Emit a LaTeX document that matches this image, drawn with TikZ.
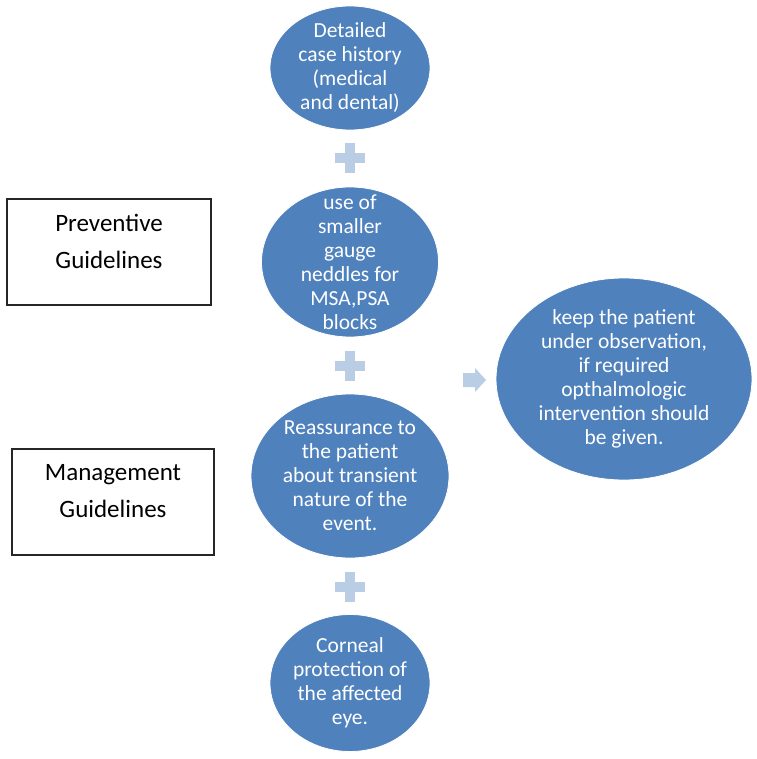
\documentclass[tikz,border=0pt]{standalone}
\usepackage{fontspec}
\setmainfont{Carlito}
\usetikzlibrary{shapes.geometric}
\definecolor{blobblue}{RGB}{79,129,189}
\definecolor{plusblue}{RGB}{185,205,229}
\newcommand{\addsign}[1]{\fill[plusfill] (#1) ++(-5,-15) rectangle ++(10,30);
  \fill[plusfill] (#1) ++(-15,-5) rectangle ++(30,10);}

\begin{document}
\begin{tikzpicture}[x=1pt, y=-1pt,
  blob/.style = {ellipse, fill=blobblue, draw=white, line width=0.8pt, inner sep=0pt},
  blobtext/.style = {text=white, align=center, inner sep=0pt, font=\fontsize{21.5}{24}\selectfont},
  guidebox/.style = {draw=black!85, line width=1.2pt, inner sep=0pt},
  guidetext/.style = {align=center, inner sep=0pt, font=\fontsize{25}{37}\selectfont},
  plusfill/.style = {fill=plusblue}]
\useasboundingbox (0,0) rectangle (756,759);

\node[blob, minimum width=160, minimum height=124] (history) at (350,68) {};
\node[blobtext] (historytxt) at (history) {Detailed\\case history\\(medical\\and dental)};
\node[blob, minimum width=177, minimum height=150] (gauge) at (350,262) {};
\node[blobtext] (gaugetxt) at (gauge) {use of\\smaller\\gauge\\neddles for\\MSA,PSA\\blocks};
\node[blob, minimum width=198, minimum height=164] (reassure) at (350,476) {};
\node[blobtext] (reassuretxt) at (reassure) {Reassurance to\\the patient\\about transient\\nature of the\\event.};
\node[blob, minimum width=160, minimum height=137] (cornea) at (350,683) {};
\node[blobtext] (corneatxt) at (cornea) {Corneal\\protection of\\the affected\\eye.};
\node[blob, minimum width=256, minimum height=202] (observe) at (624,379) {};
\node[blobtext] (observetxt) at (observe) {keep the patient\\under observation,\\if required\\opthalmologic\\intervention should\\be given.};

\node[guidebox, minimum width=204, minimum height=106] (prevbox) at (109,252) {};
\node[guidetext] (prevtxt) at (109,241.5) {Preventive\\Guidelines};
\node[guidebox, minimum width=202, minimum height=106] (mgmtbox) at (113,502) {};
\node[guidetext] (mgmttxt) at (113,491.5) {Management\\Guidelines};

\coordinate (plusA) at (350,158);
\coordinate (plusB) at (350,366);
\coordinate (plusC) at (350,587);
\addsign{plusA}
\addsign{plusB}
\addsign{plusC}

\coordinate (arrowtip) at (486,380);
\fill[plusfill] (arrowtip) -- ++(-11,-12) -- ++(0,5) -- ++(-12,0) -- ++(0,14) -- ++(12,0) -- ++(0,5) -- cycle;
\end{tikzpicture}
\end{document}
